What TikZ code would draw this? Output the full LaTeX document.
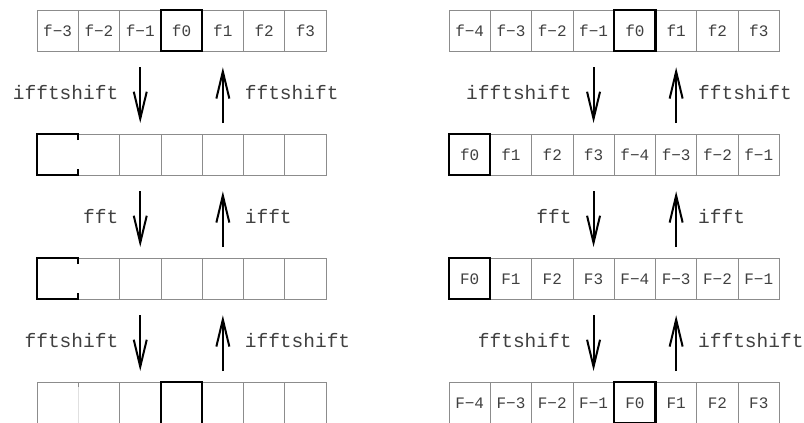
\documentclass[tikz,border=0pt]{standalone}
\usepackage{fontspec}
\setmonofont{Liberation Mono}
\usetikzlibrary{arrows.meta,positioning,calc}

\begin{document}
\begin{tikzpicture}[x=1pt, y=-1pt,
    cell/.style={rectangle, draw=black!45, line width=0.8pt, minimum width=41.3pt, minimum height=41.3pt,
      inner sep=0pt, outer sep=0pt, text height=12pt, text depth=0pt,
      font=\fontsize{16}{16}\ttfamily, text=black!75},
    hl/.style={draw=black, line width=2.2pt},
    arrow/.style={-{Straight Barb[length=27pt,width=13pt,line width=2pt]}, line width=2pt},
    lbl/.style={font=\fontsize{19.5}{20}\ttfamily, text=black!75, inner sep=0pt}
  ]
    \useasboundingbox (0,0) rectangle (804,423);

    % left: seven cells per row
    \foreach \t [count=\i] in {f−3,f−2,f−1,f0,f1,f2,f3}
      \node[cell] (L1-\i) at ({37+41.3*(\i-0.5)},30.65) {\t};
    \foreach \r/\y in {2/154.65,3/278.65,4/402.65}
      \foreach \i in {1,...,7}
        \node[cell] (L\r-\i) at ({37+41.3*(\i-0.5)},\y) {};

    % right: eight cells per row
    \foreach \t [count=\i] in {f−4,f−3,f−2,f−1,f0,f1,f2,f3}
      \node[cell] (R1-\i) at ({449+41.3*(\i-0.5)},30.65) {\t};
    \foreach \t [count=\i] in {f0,f1,f2,f3,f−4,f−3,f−2,f−1}
      \node[cell] (R2-\i) at ({449+41.3*(\i-0.5)},154.65) {\t};
    \foreach \t [count=\i] in {F0,F1,F2,F3,F−4,F−3,F−2,F−1}
      \node[cell] (R3-\i) at ({449+41.3*(\i-0.5)},278.65) {\t};
    \foreach \t [count=\i] in {F−4,F−3,F−2,F−1,F0,F1,F2,F3}
      \node[cell] (R4-\i) at ({449+41.3*(\i-0.5)},402.65) {\t};

    % zero-frequency cells
    \draw[hl] (L1-4.north west) rectangle (L1-4.south east);
    \draw[hl] (L4-4.south west) -- (L4-4.north west) -- (L4-4.north east) -- (L4-4.south east);
    \draw[black!12, line width=1pt] ($(L4-1.north east)+(0,5)$) -- (L4-1.south east);
    \foreach \r in {2,3} {
      \draw[white, line width=1.5pt] ($(L\r-1.north east)+(0,6)$) -- ($(L\r-1.south east)+(0,-6)$);
      \draw[hl] ($(L\r-1.north east)+(0,6)$) -- (L\r-1.north east) -- (L\r-1.north west)
        -- (L\r-1.south west) -- (L\r-1.south east) -- ++(0,-6);
    }
    \draw[hl] (R1-5.north west) rectangle (R1-5.south east);
    \draw[hl] (R2-1.north west) rectangle (R2-1.south east);
    \draw[hl] (R3-1.north west) rectangle (R3-1.south east);
    \draw[hl] (R4-5.north west) rectangle (R4-5.south east);

    % transforms between rows
    \foreach \r/\n/\dn/\up in {1/2/ifftshift/fftshift, 2/3/fft/ifft, 3/4/fftshift/ifftshift} {
      \draw[arrow, shorten <=16pt, shorten >=11pt] (L\r-3.south) -- node[lbl, left=21pt] (Ldn\r) {\dn} (L\n-3.north);
      \draw[arrow, shorten <=11pt, shorten >=16pt] (L\n-5.north) -- node[lbl, right=21pt] (Lup\r) {\up} (L\r-5.south);
      \draw[arrow, shorten <=16pt, shorten >=11pt] (R\r-4.south) -- node[lbl, left=21pt] (Rdn\r) {\dn} (R\n-4.north);
      \draw[arrow, shorten <=11pt, shorten >=16pt] (R\n-6.north) -- node[lbl, right=21pt] (Rup\r) {\up} (R\r-6.south);
    }
  \end{tikzpicture}
\end{document}
